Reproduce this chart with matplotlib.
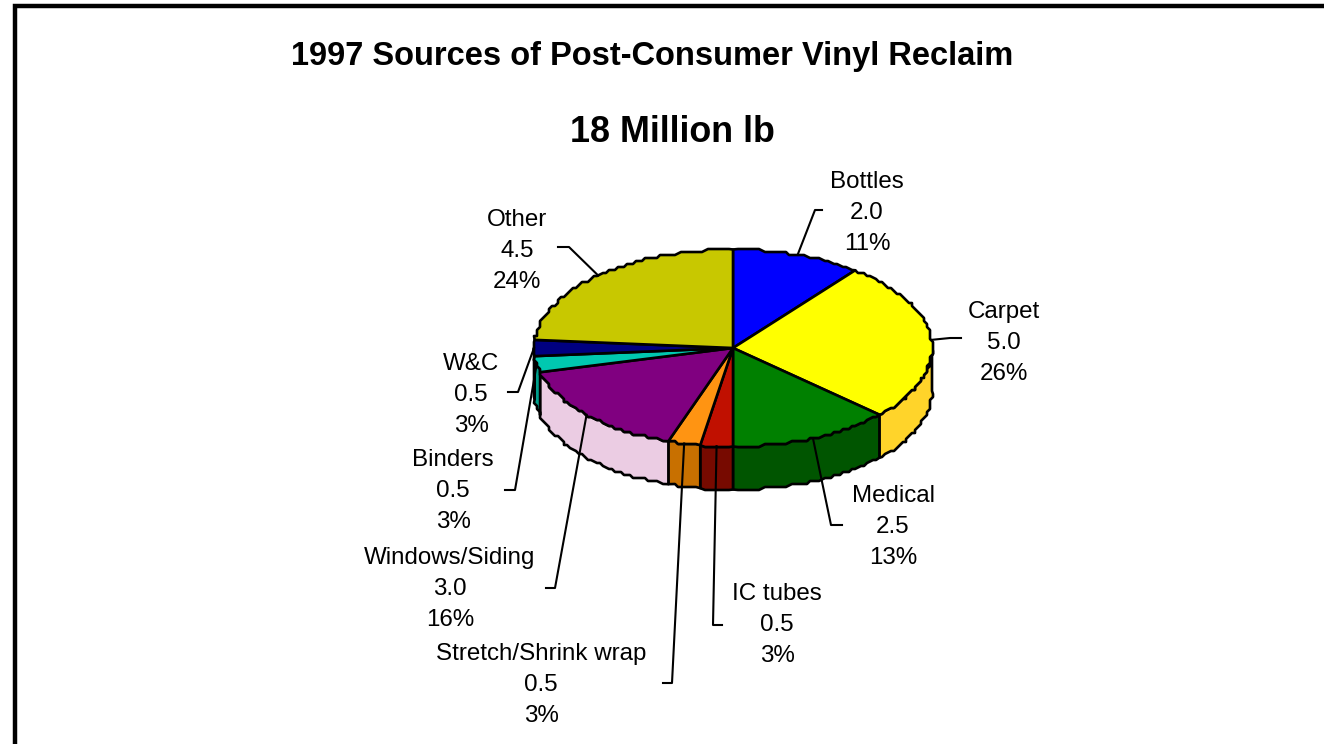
import numpy as np
import matplotlib as mpl
mpl.use('Agg')
import matplotlib.pyplot as plt
from matplotlib.patches import Polygon

plt.rcParams['font.family'] = ['Liberation Sans', 'DejaVu Sans']

# chart data, clockwise from 12 o'clock
names = ['Bottles', 'Carpet', 'Medical', 'IC tubes', 'Stretch/Shrink wrap',
         'Windows/Siding', 'Binders', 'W&C', 'Other']
values = [2.0, 5.0, 2.5, 0.5, 0.5, 3.0, 0.5, 0.5, 4.5]
percents = [11, 26, 13, 3, 3, 16, 3, 3, 24]
title_lines = ['1997 Sources of Post-Consumer Vinyl Reclaim', '18 Million lb']

top_colors = ['#0000FF', '#FFFF00', '#008000', '#C01000', '#FF9412',
              '#800080', '#00C8B0', '#000080', '#C8C800']
side_colors = ['#000080', '#FFD42A', '#005500', '#770A00', '#C87000',
               '#EBCCE3', '#00A08C', '#000060', '#808000']

# label centre and first line baseline, then the leader elbow and its end
label_pos = [(867, 188), (1004, 318), (893, 502), (777, 600), (541, 660),
             (450, 564), (453, 466), (471, 370), (517, 226)]
leader_mid = [(815, 210), (950, 338), (831, 525), (713, 625), (672, 683),
              (555, 588), (515, 490), (518, 392), (569, 247)]
leader_end = [(822, 210), (961, 338), (842, 525), (722, 625), (663, 683),
              (546, 588), (505, 490), (508, 392), (558, 247)]

cx, cy = 733, 348
rx, ry = 199, 98.5
depth = 43
line_w = 1.9
step = 3  # rim is stepped in the original


def rim(deg):
    # deg is clockwise from the top
    a = np.radians(deg)
    return cx + rx * np.sin(a), cy - ry * np.cos(a)


def arc(a0, a1):
    n = max(int((a1 - a0) / 1.5), 1) + 1
    d = np.linspace(a0, a1, n)
    pts = np.column_stack(rim(d))
    # snap inner points to a coarse grid, keep the slice corners exact
    pts[1:-1] = np.round(pts[1:-1] / step) * step
    return pts


fig = plt.figure(figsize=(13.24, 7.44), dpi=100)
ax = fig.add_axes([0, 0, 1, 1])
ax.set_xlim(0, 1324)
ax.set_ylim(744, 0)
ax.axis('off')

# frame, only top and left show in the picture
ax.plot([15, 15, 1324], [744, 6, 6], color='black', lw=3.2,
        solid_joinstyle='miter', zorder=1)

edges = 360 * np.cumsum([0] + values) / np.sum(values)

# side wall, only the front half of the pie is visible
for i in range(len(values)):
    a0, a1 = max(edges[i], 90), min(edges[i + 1], 270)
    if a1 <= a0:
        continue
    pts = arc(a0, a1)
    low = pts[::-1] + [0, depth]
    ax.add_patch(Polygon(np.vstack([pts, low]), closed=True, fc=side_colors[i],
                         ec='black', lw=line_w, joinstyle='round', zorder=2))

# top face
for i in range(len(values)):
    pts = np.vstack([[cx, cy], arc(edges[i], edges[i + 1])])
    ax.add_patch(Polygon(pts, closed=True, fc=top_colors[i], ec='black',
                         lw=line_w, joinstyle='round', zorder=3))

# leader lines and labels
for i in range(len(values)):
    mid = (edges[i] + edges[i + 1]) / 2
    x0, y0 = rim(mid)
    ax.plot([x0, leader_mid[i][0], leader_end[i][0]],
            [y0, leader_mid[i][1], leader_end[i][1]],
            color='black', lw=1.5, zorder=4)
    lines = [names[i], f'{values[i]:.1f}', f'{percents[i]}%']
    lx, ly = label_pos[i]
    for j, s in enumerate(lines):
        ax.text(lx, ly + j * 31, s, ha='center', va='baseline', fontsize=17.4,
                color='black', zorder=5)

ax.text(652, 65, title_lines[0], ha='center', va='baseline', fontsize=23.5,
        fontweight='bold')
ax.text(672, 142, title_lines[1], ha='center', va='baseline', fontsize=25.8,
        fontweight='bold')

fig.savefig('out.png', dpi=100)
